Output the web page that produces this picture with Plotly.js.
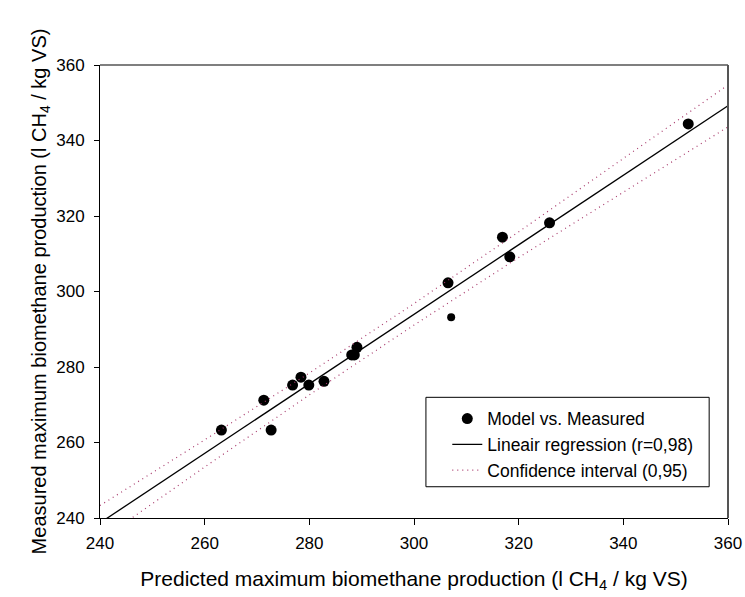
<!DOCTYPE html>
<html>
<head>
<meta charset="utf-8">
<script src="https://cdn.plot.ly/plotly-3.0.1.min.js"></script>
<style>html,body{margin:0;padding:0;background:#fff;}#chart{width:745px;height:597px;}</style>
</head>
<body>
<div id="chart"></div>
<script>
// Measured vs. predicted points
const predicted = [263.2, 272.7, 271.3, 276.8, 278.4, 279.9, 282.8, 288.1, 288.6, 289.1, 306.5, 318.3, 316.9, 325.9, 352.4];
const measured  = [263.3, 263.3, 271.2, 275.2, 277.3, 275.2, 276.2, 283.2, 283.2, 285.2, 302.3, 309.2, 314.4, 318.2, 344.4];
// smaller point
const predictedSmall = [307.1];
const measuredSmall  = [293.2];
// regression line and confidence band
const lineX  = [240, 260, 280, 300, 320, 340, 360];
const regY   = [238.7, 257.1, 275.5, 294.0, 312.4, 330.8, 349.2];
const upperY = [243.3, 260.7, 278.4, 296.8, 315.8, 335.2, 354.7];
const lowerY = [234.1, 253.5, 272.6, 291.1, 309.0, 326.4, 343.6];
const xTicks = [240, 260, 280, 300, 320, 340, 360];
const yTicks = [240, 260, 280, 300, 320, 340, 360];

const FONT = "Liberation Sans, Arial, sans-serif";
const traces = [
  {x: predicted, y: measured, type: 'scatter', mode: 'markers', name: 'Model vs. Measured',
   marker: {color: '#000', size: 11}, cliponaxis: false},
  {x: lineX, y: regY, type: 'scatter', mode: 'lines', name: 'Lineair regression (r=0,98)',
   line: {color: '#000', width: 1.3}},
  {x: lineX, y: upperY, type: 'scatter', mode: 'lines', name: 'Confidence interval (0,95)',
   line: {color: '#a83a6c', width: 1.2, dash: '1px,4px'}},
  {x: lineX, y: lowerY, type: 'scatter', mode: 'lines', name: 'Confidence interval lower',
   showlegend: false, line: {color: '#a83a6c', width: 1.2, dash: '1px,4px'}},
  {x: predictedSmall, y: measuredSmall, type: 'scatter', mode: 'markers', showlegend: false,
   marker: {color: '#000', size: 8}}
];

const layout = {
  width: 745, height: 597,
  margin: {l: 100, r: 17, t: 65, b: 79},
  paper_bgcolor: '#fff', plot_bgcolor: '#fff',
  font: {family: FONT, size: 17, color: '#000'},
  showlegend: true,
  legend: {x: 0.553, y: 0.259, xanchor: 'left', yanchor: 'top', bgcolor: 'rgba(0,0,0,0)',
           borderwidth: 0, font: {family: FONT, size: 17.5, color: '#000'}},
  xaxis: {range: [240, 360], tickvals: xTicks, ticks: 'outside', ticklen: 6, tickcolor: '#000',
          showline: true, linecolor: '#000', linewidth: 1, showgrid: false, zeroline: false,
          tickfont: {family: FONT, size: 17}, ticklabelstandoff: 4,
          title: {text: 'Predicted maximum biomethane production (l CH<sub>4</sub> / kg VS)',
                  font: {family: FONT, size: 21}, standoff: 18}},
  yaxis: {range: [240, 360], tickvals: yTicks, ticks: 'outside', ticklen: 5, tickcolor: '#000',
          showline: true, linecolor: '#000', linewidth: 1, showgrid: false, zeroline: false,
          tickfont: {family: FONT, size: 17}, ticklabelstandoff: 6,
          title: {text: 'Measured maximum biomethane production (l CH<sub>4</sub> / kg VS)',
                  font: {family: FONT, size: 20}, standoff: 4}},
  shapes: [
    {type: 'line', xref: 'paper', yref: 'paper', x0: 0, x1: 1, y0: 1, y1: 1, line: {color: '#555', width: 1.6}},
    {type: 'line', xref: 'paper', yref: 'paper', x0: 1, x1: 1, y0: 0, y1: 1, line: {color: '#555', width: 2}},
    {type: 'rect', xref: 'paper', yref: 'paper', x0: 0.519, x1: 0.970, y0: 0.069, y1: 0.2664,
     line: {color: '#000', width: 1}, fillcolor: 'rgba(0,0,0,0)', layer: 'above'}
  ]
};

Plotly.newPlot('chart', traces, layout, {displayModeBar: false, staticPlot: true});
</script>
</body>
</html>
